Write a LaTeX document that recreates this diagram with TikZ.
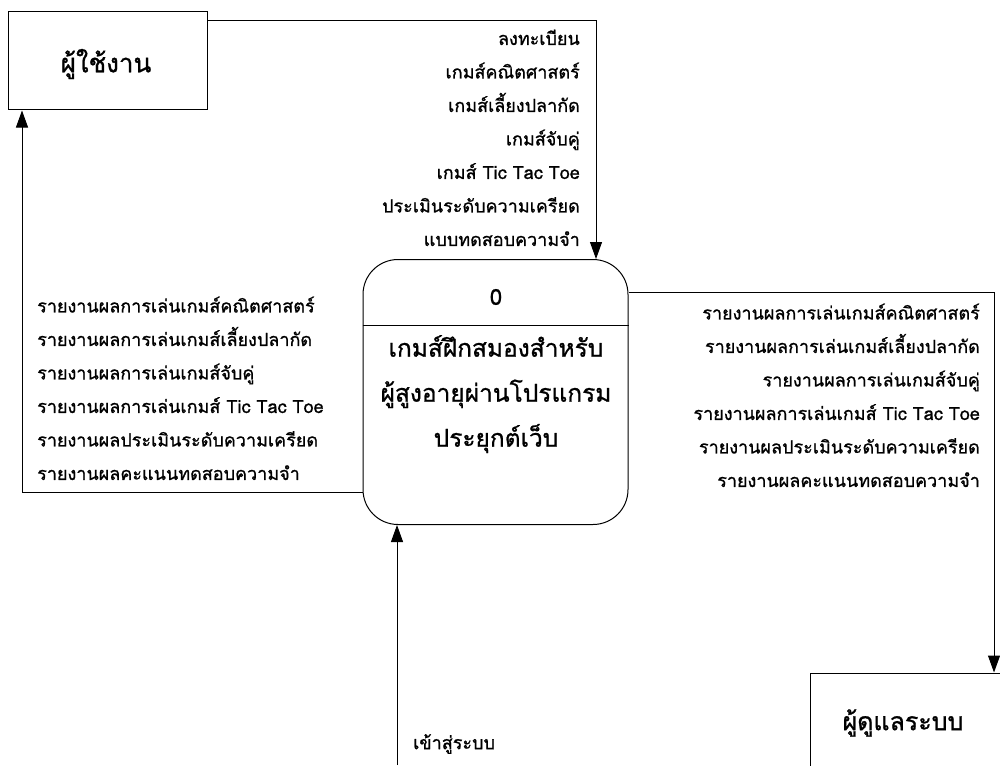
\documentclass[tikz,border=0pt]{standalone}
\usepackage{fontspec}
\newfontfamily\thaifont[Script=Thai,FakeBold=1]{Loma}
\usetikzlibrary{arrows.meta}
\begin{document}
\begin{tikzpicture}[x=1pt,y=-1pt,font=\thaifont,
  flow/.style={draw=black,line width=1pt,-{Triangle[length=17pt,width=12pt]}},
  entity/.style={draw=black,line width=1pt,inner sep=0pt},
  entitytext/.style={inner sep=0pt,font=\thaifont\fontsize{26}{30}\selectfont},
  procbox/.style={draw=black,line width=1pt,rounded corners=35pt,inner sep=0pt},
  proctext/.style={inner sep=0pt,align=center,
    font=\thaifont\fontsize{24.5}{45}\selectfont},
  lbl/.style={inner sep=0pt,font=\thaifont\fontsize{18}{33.5}\selectfont}]
\useasboundingbox (0,0) rectangle (1000,765);

% external entities
\node[entity,minimum width=199pt,minimum height=98pt] (user) at (107.5,61) {};
\node[entitytext] (usertext) at (106,64) {ผู้ใช้งาน};
\node[entity,minimum width=200pt,minimum height=110pt] (admin) at (910,728) {};
\node[entitytext,font=\thaifont\fontsize{25}{30}\selectfont] (admintext) at (903,723) {ผู้ดูแลระบบ};

% process
\node[procbox,minimum width=265pt,minimum height=265pt] (proc) at (495.5,392) {};
\coordinate (divy) at (0,325);
\draw[line width=1pt] (proc.west |- divy) -- (proc.east |- divy);
\node[inner sep=0pt,font=\thaifont\fontsize{22}{26}\selectfont] (pid) at (496,297) {0};
\node[proctext,anchor=north] (pname) at (496,335)
  {เกมส์ฝึกสมองสำหรับ\\ผู้สูงอายุผ่านโปรแกรม\\ประยุกต์เว็บ};

% data flows
\coordinate (c1) at (596,21);
\draw[flow] (user.east |- c1) -- (c1) -- (c1 |- proc.north);
\coordinate (c2) at (22,492);
\draw[flow] (proc.west |- c2) -- (c2) -- (c2 |- user.south);
\coordinate (c3) at (994,292);
\draw[flow] (proc.east |- c3) -- (c3) -- (c3 |- admin.north);
\coordinate (c4) at (397,765);
\draw[flow] (c4) -- (c4 |- proc.south);

% flow labels
\node[lbl,align=right,anchor=north east] (lin) at (580,29.5)
  {ลงทะเบียน\\เกมส์คณิตศาสตร์\\เกมส์เลี้ยงปลากัด\\เกมส์จับคู่\\เกมส์ Tic Tac Toe\\ประเมินระดับความเครียด\\แบบทดสอบความจำ};
\node[lbl,align=left,anchor=north west] (lout) at (37,296.5)
  {รายงานผลการเล่นเกมส์คณิตศาสตร์\\รายงานผลการเล่นเกมส์เลี้ยงปลากัด\\รายงานผลการเล่นเกมส์จับคู่\\รายงานผลการเล่นเกมส์ Tic Tac Toe\\รายงานผลประเมินระดับความเครียด\\รายงานผลคะแนนทดสอบความจำ};
\node[lbl,align=right,anchor=north east] (rout) at (980,303.5)
  {รายงานผลการเล่นเกมส์คณิตศาสตร์\\รายงานผลการเล่นเกมส์เลี้ยงปลากัด\\รายงานผลการเล่นเกมส์จับคู่\\รายงานผลการเล่นเกมส์ Tic Tac Toe\\รายงานผลประเมินระดับความเครียด\\รายงานผลคะแนนทดสอบความจำ};
\node[lbl,anchor=west] (login) at (413,744) {เข้าสู่ระบบ};
\end{tikzpicture}
\end{document}
